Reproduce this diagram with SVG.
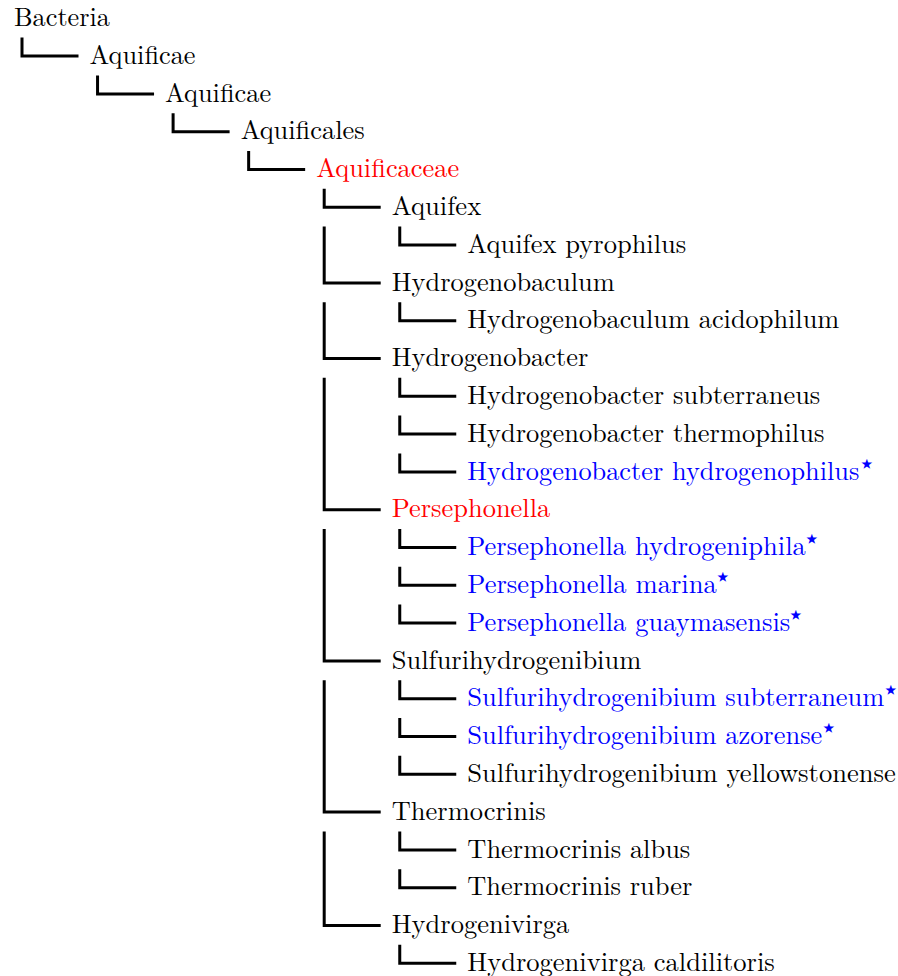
<svg xmlns="http://www.w3.org/2000/svg" width="898" height="976" viewBox="0 0 898 976">
<style>
.r{fill:#ff0000}
.b{fill:#0000ff}
#edges path{fill:none;stroke:#000;stroke-width:3;stroke-linejoin:miter;stroke-linecap:butt}
</style>
<rect width="898" height="976" fill="#fff"/>
<g id="edges">
<path d="M22 37.6V56.1H78.5"/>
<path d="M97.55 75.4V93.9H154.05"/>
<path d="M173.1 113.2V131.7H229.6"/>
<path d="M248.65 151V169.5H305.15"/>
<path d="M324.2 188.8V207.3H380.7"/>
<path d="M399.75 226.6V245.1H456.25"/>
<path d="M324.2 226.6V282.9H380.7"/>
<path d="M399.75 302.2V320.7H456.25"/>
<path d="M324.2 302.2V358.5H380.7"/>
<path d="M399.75 377.8V396.3H456.25"/>
<path d="M399.75 415.6V434.1H456.25"/>
<path d="M399.75 453.4V471.9H456.25"/>
<path d="M324.2 377.8V509.7H380.7"/>
<path d="M399.75 529V547.5H456.25"/>
<path d="M399.75 566.8V585.3H456.25"/>
<path d="M399.75 604.6V623.1H456.25"/>
<path d="M324.2 529V660.9H380.7"/>
<path d="M399.75 680.2V698.7H456.25"/>
<path d="M399.75 718V736.5H456.25"/>
<path d="M399.75 755.8V774.3H456.25"/>
<path d="M324.2 680.2V812.1H380.7"/>
<path d="M399.75 831.4V849.9H456.25"/>
<path d="M399.75 869.2V887.7H456.25"/>
<path d="M324.2 831.4V925.5H380.7"/>
<path d="M399.75 944.8V963.3H456.25"/>
</g>
<g id="nodes" font-family="Latin Modern Roman, Liberation Serif, serif" font-size="26.2" fill="#000" lengthAdjust="spacingAndGlyphs">
<g id="n1"><text x="14" y="26" textLength="96" lengthAdjust="spacingAndGlyphs">Bacteria</text></g>
<g id="n2"><text x="89.55" y="63.8" textLength="106" lengthAdjust="spacingAndGlyphs">Aquificae</text></g>
<g id="n3"><text x="165.1" y="101.6" textLength="106" lengthAdjust="spacingAndGlyphs">Aquificae</text></g>
<g id="n4"><text x="240.65" y="139.4" textLength="124" lengthAdjust="spacingAndGlyphs">Aquificales</text></g>
<g id="n5"><text class="r" x="316.2" y="177.2" textLength="143" lengthAdjust="spacingAndGlyphs">Aquificaceae</text></g>
<g id="n6"><text x="391.75" y="215" textLength="89.5" lengthAdjust="spacingAndGlyphs">Aquifex</text></g>
<g id="n7"><text x="467.3" y="252.8" textLength="219" lengthAdjust="spacingAndGlyphs">Aquifex pyrophilus</text></g>
<g id="n8"><text x="391.75" y="290.6" textLength="223" lengthAdjust="spacingAndGlyphs">Hydrogenobaculum</text></g>
<g id="n9"><text x="467.3" y="328.4" textLength="372" lengthAdjust="spacingAndGlyphs">Hydrogenobaculum acidophilum</text></g>
<g id="n10"><text x="391.75" y="366.2" textLength="196.5" lengthAdjust="spacingAndGlyphs">Hydrogenobacter</text></g>
<g id="n11"><text x="467.3" y="404" textLength="353" lengthAdjust="spacingAndGlyphs">Hydrogenobacter subterraneus</text></g>
<g id="n12"><text x="467.3" y="441.8" textLength="357" lengthAdjust="spacingAndGlyphs">Hydrogenobacter thermophilus</text></g>
<g id="n13"><text class="b" x="467.3" y="479.6" textLength="392" lengthAdjust="spacingAndGlyphs">Hydrogenobacter hydrogenophilus</text><text class="b" font-family="DejaVu Sans, sans-serif" font-size="28" x="858" y="472.6">⋆</text></g>
<g id="n14"><text class="r" x="391.75" y="517.4" textLength="158.5" lengthAdjust="spacingAndGlyphs">Persephonella</text></g>
<g id="n15"><text class="b" x="467.3" y="555.2" textLength="338.5" lengthAdjust="spacingAndGlyphs">Persephonella hydrogeniphila</text><text class="b" font-family="DejaVu Sans, sans-serif" font-size="28" x="803" y="548.2">⋆</text></g>
<g id="n16"><text class="b" x="467.3" y="593" textLength="249.5" lengthAdjust="spacingAndGlyphs">Persephonella marina</text><text class="b" font-family="DejaVu Sans, sans-serif" font-size="28" x="714" y="586">⋆</text></g>
<g id="n17"><text class="b" x="467.3" y="630.8" textLength="323" lengthAdjust="spacingAndGlyphs">Persephonella guaymasensis</text><text class="b" font-family="DejaVu Sans, sans-serif" font-size="28" x="787" y="623.8">⋆</text></g>
<g id="n18"><text x="391.75" y="668.6" textLength="249.5" lengthAdjust="spacingAndGlyphs">Sulfurihydrogenibium</text></g>
<g id="n19"><text class="b" x="467.3" y="706.4" textLength="417" lengthAdjust="spacingAndGlyphs">Sulfurihydrogenibium subterraneum</text><text class="b" font-family="DejaVu Sans, sans-serif" font-size="28" x="882" y="699.4">⋆</text></g>
<g id="n20"><text class="b" x="467.3" y="744.2" textLength="355" lengthAdjust="spacingAndGlyphs">Sulfurihydrogenibium azorense</text><text class="b" font-family="DejaVu Sans, sans-serif" font-size="28" x="820" y="737.2">⋆</text></g>
<g id="n21"><text x="467.3" y="782" textLength="428.5" lengthAdjust="spacingAndGlyphs">Sulfurihydrogenibium yellowstonense</text></g>
<g id="n22"><text x="391.75" y="819.8" textLength="154" lengthAdjust="spacingAndGlyphs">Thermocrinis</text></g>
<g id="n23"><text x="467.3" y="857.6" textLength="223" lengthAdjust="spacingAndGlyphs">Thermocrinis albus</text></g>
<g id="n24"><text x="467.3" y="895.4" textLength="225" lengthAdjust="spacingAndGlyphs">Thermocrinis ruber</text></g>
<g id="n25"><text x="391.75" y="933.2" textLength="177.5" lengthAdjust="spacingAndGlyphs">Hydrogenivirga</text></g>
<g id="n26"><text x="467.3" y="971" textLength="307.5" lengthAdjust="spacingAndGlyphs">Hydrogenivirga caldilitoris</text></g>
</g>
</svg>
